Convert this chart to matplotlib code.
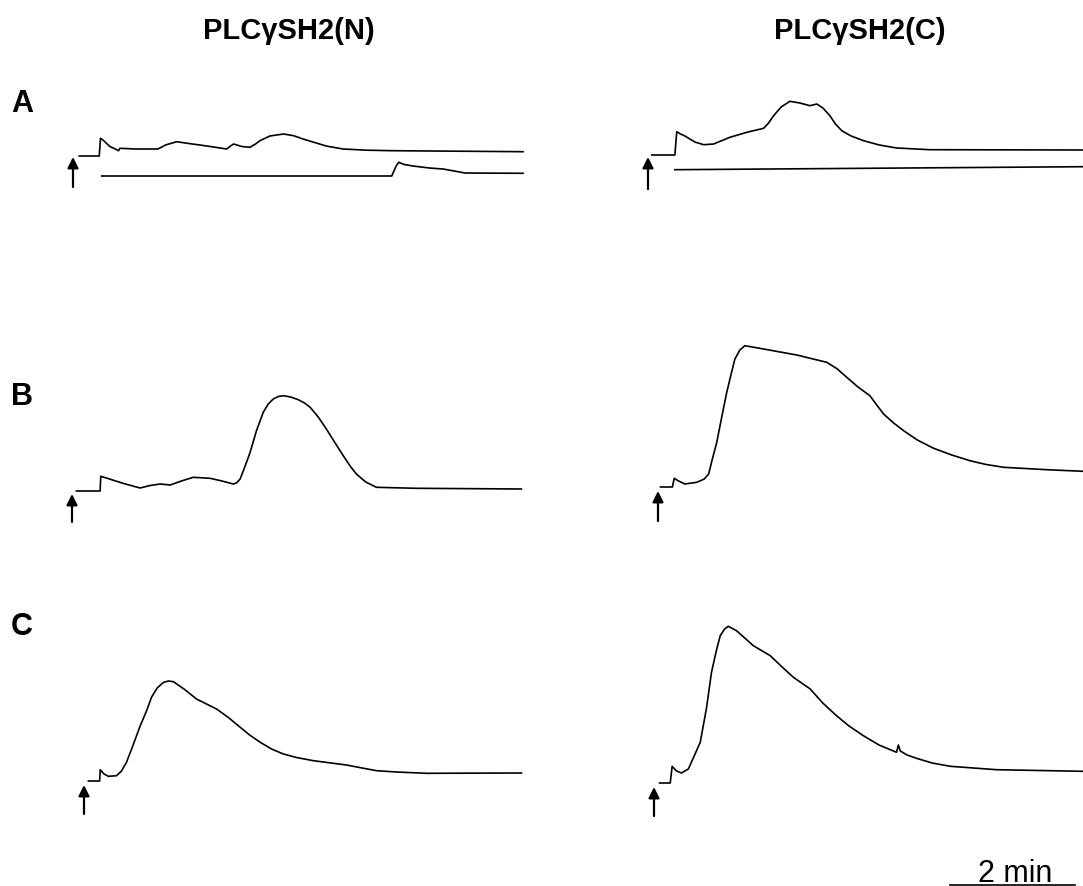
import matplotlib
matplotlib.use("Agg")
import matplotlib.pyplot as plt

plt.rcParams['font.family'] = ['Liberation Sans', 'DejaVu Sans']

# ---- data: time after stimulus (min), relative signal (a.u.) ----
# Panel A, PLCgSH2(N): stimulated trace and control trace
a_n1_t = [0.10, 0.42, 0.44, 0.48, 0.53, 0.59, 0.66, 0.73, 0.75, 1.00, 1.36, 1.48, 1.66, 1.85,
          2.03, 2.25, 2.46, 2.52, 2.57, 2.70, 2.83, 2.92, 2.99, 3.15, 3.37, 3.53, 3.68, 3.84,
          4.05, 4.32, 4.70, 5.12, 7.20]
a_n1_v = [0.0, 0.0, 0.177, 0.16, 0.13, 0.095, 0.075, 0.053, 0.077, 0.07, 0.07, 0.11, 0.143,
          0.125, 0.11, 0.09, 0.07, 0.10, 0.12, 0.095, 0.087, 0.12, 0.153, 0.20, 0.22, 0.203,
          0.17, 0.14, 0.10, 0.07, 0.058, 0.053, 0.043]
a_n2_t = [0.46, 5.10, 5.17, 5.21, 5.30, 5.44, 5.70, 5.92, 6.10, 6.27, 7.20]
a_n2_v = [-0.20, -0.20, -0.10, -0.063, -0.085, -0.10, -0.12, -0.13, -0.15, -0.17, -0.173]
# Panel A, PLCgSH2(C)
a_c1_t = [0.06, 0.43, 0.46, 0.52, 0.59, 0.75, 0.89, 1.05, 1.31, 1.60, 1.85, 1.93, 2.01, 2.13,
          2.27, 2.43, 2.59, 2.70, 2.80, 2.91, 3.00, 3.10, 3.25, 3.45, 3.70, 3.98, 4.51, 6.96]
a_c1_v = [0.0, 0.0, 0.233, 0.21, 0.19, 0.13, 0.103, 0.11, 0.177, 0.23, 0.267, 0.32, 0.393,
          0.48, 0.537, 0.52, 0.493, 0.51, 0.47, 0.393, 0.31, 0.243, 0.19, 0.143, 0.10, 0.07,
          0.053, 0.05]
a_c2_t = [0.43, 6.96]
a_c2_v = [-0.147, -0.117]
# Panel B
b_n_t = [0.07, 0.45, 0.46, 0.60, 0.80, 1.00, 1.09, 1.25, 1.41, 1.57, 1.75, 1.94, 2.21, 2.40,
         2.58, 2.63, 2.69, 2.74, 2.80, 2.85, 2.95, 3.06, 3.14, 3.22, 3.30, 3.38, 3.50, 3.62,
         3.72, 3.81, 3.94, 4.07, 4.20, 4.34, 4.45, 4.55, 4.70, 4.87, 5.51, 7.19]
b_n_v = [0.0, 0.0, 0.147, 0.12, 0.08, 0.045, 0.03, 0.055, 0.07, 0.06, 0.10, 0.137, 0.127, 0.10,
         0.07, 0.08, 0.12, 0.20, 0.30, 0.387, 0.60, 0.787, 0.87, 0.92, 0.945, 0.953, 0.94,
         0.913, 0.88, 0.837, 0.74, 0.62, 0.49, 0.353, 0.25, 0.17, 0.09, 0.037, 0.027, 0.02]
b_c_t = [0.04, 0.23, 0.26, 0.33, 0.43, 0.62, 0.74, 0.81, 0.87, 0.94, 1.02, 1.10, 1.17, 1.23,
         1.31, 1.39, 1.69, 2.22, 2.70, 2.87, 3.02, 3.20, 3.39, 3.50, 3.61, 3.77, 3.93, 4.15,
         4.41, 4.70, 4.99, 5.25, 5.53, 6.22, 6.80]
b_c_v = [0.0, 0.0, 0.087, 0.06, 0.03, 0.047, 0.08, 0.13, 0.28, 0.447, 0.70, 0.947, 1.13, 1.28,
         1.37, 1.413, 1.38, 1.32, 1.247, 1.18, 1.097, 1.00, 0.913, 0.82, 0.73, 0.64, 0.563,
         0.47, 0.387, 0.32, 0.263, 0.225, 0.197, 0.173, 0.157]
# Panel C
c_n_t = [0.07, 0.25, 0.26, 0.32, 0.39, 0.52, 0.60, 0.68, 0.78, 0.90, 1.00, 1.08, 1.17, 1.27,
         1.35, 1.43, 1.60, 1.80, 2.12, 2.30, 2.50, 2.65, 2.82, 3.00, 3.19, 3.40, 3.67, 4.20,
         4.45, 4.68, 5.00, 5.48, 7.00]
c_n_v = [0.0, 0.0, 0.113, 0.07, 0.047, 0.053, 0.10, 0.187, 0.35, 0.553, 0.70, 0.837, 0.93,
         0.985, 1.0, 0.993, 0.92, 0.82, 0.72, 0.64, 0.537, 0.46, 0.387, 0.32, 0.27, 0.235,
         0.203, 0.16, 0.13, 0.103, 0.09, 0.077, 0.08]
c_c_t = [0.09, 0.26, 0.29, 0.36, 0.44, 0.55, 0.65, 0.74, 0.84, 0.92, 1.00, 1.06, 1.13, 1.19,
         1.32, 1.59, 1.86, 2.05, 2.23, 2.50, 2.70, 2.92, 3.12, 3.35, 3.60, 3.88, 3.91, 3.94,
         4.05, 4.20, 4.45, 4.74, 5.48, 6.86]
c_c_v = [0.0, 0.0, 0.167, 0.12, 0.10, 0.14, 0.28, 0.407, 0.75, 1.107, 1.33, 1.473, 1.54, 1.567,
         1.523, 1.373, 1.273, 1.16, 1.057, 0.94, 0.80, 0.673, 0.57, 0.473, 0.38, 0.307, 0.38,
         0.32, 0.28, 0.247, 0.20, 0.167, 0.133, 0.117]

col_titles = ["PLC\u03b3SH2(N)", "PLC\u03b3SH2(C)"]
row_labels = ["A", "B", "C"]
scale_min = 2
scale_label = "2 min"

# ---- layout (pixels) ----
W, H = 1083, 887
PX_PER_MIN = 62.5
PX_PER_UNIT = 100.0

fig = plt.figure(figsize=(W / 100, H / 100), dpi=100)
fig.patch.set_facecolor('white')


def panel(x_arrow, y_base):
    ax = fig.add_axes([0, 0, 1, 1])
    ax.set_xlim(-x_arrow / PX_PER_MIN, (W - x_arrow) / PX_PER_MIN)
    ax.set_ylim((y_base - H) / PX_PER_UNIT, y_base / PX_PER_UNIT)
    ax.axis('off')
    ax.patch.set_alpha(0)
    return ax


def arrow(ax, tip, bottom):
    ax.annotate('', xy=(0, tip), xytext=(0, bottom),
                arrowprops=dict(arrowstyle='-|>', lw=1.6, color='black',
                                mutation_scale=16, shrinkA=0, shrinkB=0))


lw = 1.2
kw = dict(color='black', lw=lw, solid_joinstyle='round')
ax = panel(73, 157)
ax.plot(a_n1_t, a_n1_v, **kw)
ax.plot(a_n2_t, a_n2_v, **kw)
arrow(ax, -0.01, -0.31)

ax = panel(648, 156)
ax.plot(a_c1_t, a_c1_v, **kw)
ax.plot(a_c2_t, a_c2_v, **kw)
arrow(ax, -0.02, -0.34)

ax = panel(72, 492)
ax.plot(b_n_t, b_n_v, **kw)
arrow(ax, -0.03, -0.31)

ax = panel(658, 488)
ax.plot(b_c_t, b_c_v, **kw)
arrow(ax, -0.04, -0.34)

ax = panel(84, 782)
ax.plot(c_n_t, c_n_v, **kw)
arrow(ax, -0.04, -0.33)

ax = panel(654, 784)
ax.plot(c_c_t, c_c_v, **kw)
arrow(ax, -0.04, -0.33)

# scale bar
x0 = (950 - 654) / PX_PER_MIN
ax.plot([x0, x0 + scale_min], [-1.015, -1.015], color='black', lw=1.2, clip_on=False)
ax.text(x0 + scale_min / 2 + 0.05, -0.98, scale_label, ha='center', va='baseline',
        fontsize=22, color='black')

# column titles
fig.text(289 / W, 1 - 31 / H, col_titles[0], ha='center', va='center',
         fontsize=21, fontweight='bold')
fig.text(860 / W, 1 - 31 / H, col_titles[1], ha='center', va='center',
         fontsize=21, fontweight='bold')

# row labels
for lab, y in zip(row_labels, [104, 397, 627]):
    fig.text(22 / W, 1 - y / H, lab, ha='center', va='center', fontsize=22, fontweight='bold')

fig.savefig('out.png', dpi=100, facecolor='white')
